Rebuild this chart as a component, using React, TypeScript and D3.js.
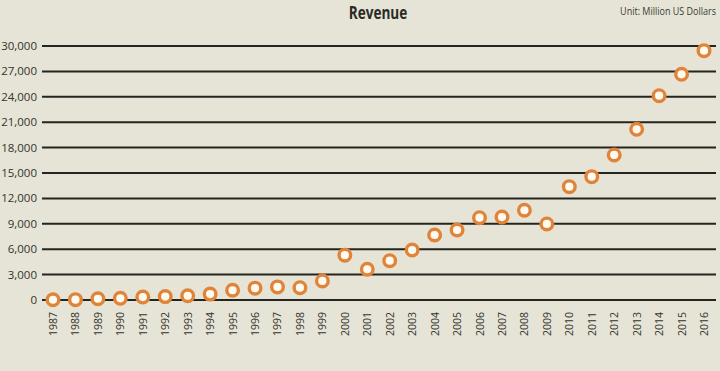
import React, { useEffect, useRef } from "react";
import * as d3 from "d3";

const years = d3.range(1987, 2017).map(String);
const revenue = [
  30, 40, 150, 200, 350, 400, 500, 700, 1150, 1400, 1550, 1450, 2250, 5300,
  3630, 4640, 5900, 7680, 8270, 9720, 9800, 10600, 8980, 13390, 14570, 17130,
  20160, 24130, 26660, 29450,
];
const yTicks = d3.range(0, 30001, 3000);

const W = 720;
const H = 371;
const FONT = "'Open Sans', 'DejaVu Sans', sans-serif";

const App = () => {
  const ref = useRef<SVGSVGElement>(null);

  useEffect(() => {
    const svg = d3.select(ref.current);
    svg.selectAll("*").remove();

    const margin = { top: 46, right: 4, bottom: 71, left: 42 };
    const x = d3.scalePoint().domain(years).range([53, 704]);
    const y = d3.scaleLinear().domain([0, 30000]).range([H - margin.bottom, margin.top]);

    svg.append("rect").attr("width", W).attr("height", H).attr("fill", "#e6e4d6");

    // title, squeezed to look like the condensed face in the original
    svg
      .append("text")
      .attr("transform", "translate(378,19) scale(0.8,1)")
      .attr("text-anchor", "middle")
      .attr("font-family", FONT)
      .attr("font-weight", "bold")
      .attr("font-size", 17)
      .attr("fill", "#2b2b26")
      .text("Revenue");

    svg
      .append("text")
      .attr("transform", "translate(716,15) scale(0.9,1)")
      .attr("text-anchor", "end")
      .attr("font-family", FONT)
      .attr("font-size", 10)
      .attr("fill", "#3a3a34")
      .text("Unit: Million US Dollars");

    // grid lines + y labels
    const yAxis = svg.append("g");
    yAxis
      .selectAll("line")
      .data(yTicks)
      .join("line")
      .attr("x1", margin.left)
      .attr("x2", W - margin.right)
      .attr("y1", (d) => y(d))
      .attr("y2", (d) => y(d))
      .attr("stroke", "#25251f")
      .attr("stroke-width", 2);
    yAxis
      .selectAll("text")
      .data(yTicks)
      .join("text")
      .attr("x", 37)
      .attr("y", (d) => y(d))
      .attr("dy", "0.35em")
      .attr("text-anchor", "end")
      .attr("font-family", FONT)
      .attr("font-size", 11.5)
      .attr("fill", "#33332d")
      .text((d) => d3.format(",")(d));

    // x labels
    svg
      .append("g")
      .selectAll("text")
      .data(years)
      .join("text")
      .attr("transform", (d) => `translate(${x(d)! + 4},${312}) rotate(-90)`)
      .attr("text-anchor", "end")
      .attr("font-family", FONT)
      .attr("font-size", 10.5)
      .attr("fill", "#33332d")
      .text((d) => d);

    // points
    svg
      .append("g")
      .selectAll("circle")
      .data(revenue)
      .join("circle")
      .attr("cx", (_, i) => x(years[i])!)
      .attr("cy", (d) => y(d))
      .attr("r", 5.8)
      .attr("fill", "#fffaf0")
      .attr("stroke", "#e0843a")
      .attr("stroke-width", 3.4);
  }, []);

  return (
    <div style={{ position: "fixed", left: 0, top: 0 }}>
      <svg ref={ref} width={W} height={H} style={{ display: "block" }} />
    </div>
  );
};

export default App;
